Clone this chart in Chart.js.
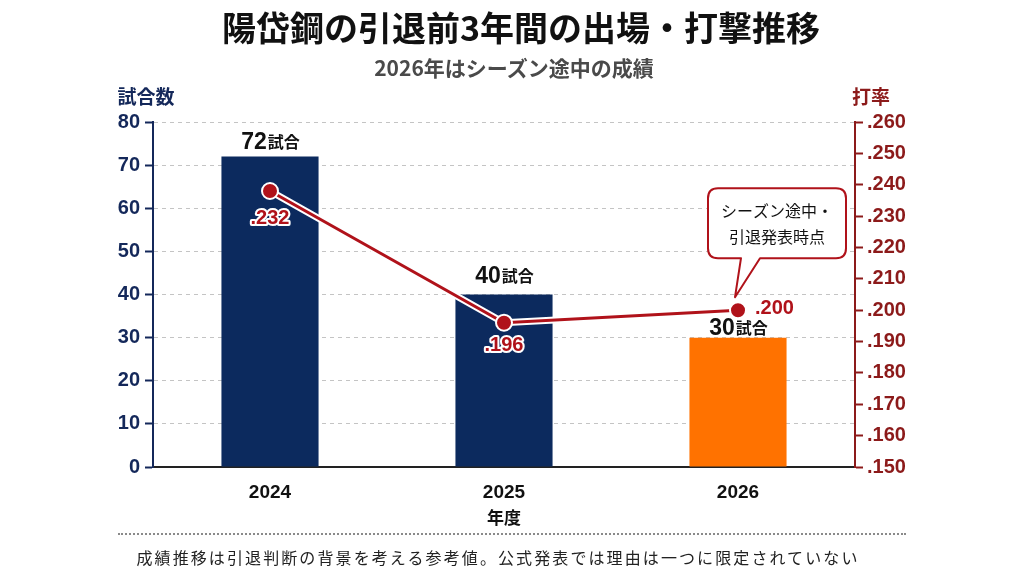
<!DOCTYPE html>
<html lang="ja">
<head>
<meta charset="utf-8">
<script src="https://cdn.jsdelivr.net/npm/chart.js@4.4.1/dist/chart.umd.min.js"></script>
<style>
  html, body { margin: 0; padding: 0; background: #fff; }
  body { width: 1024px; height: 576px; position: relative; overflow: hidden; font-family: "Noto Sans CJK JP", "Noto Sans", sans-serif; }
  #title { position: absolute; top: 4px; left: 9px; width: 1024px; text-align: center; font-size: 34px; font-weight: bold; color: #111; line-height: 46px; }
  #subtitle { position: absolute; top: 52px; left: 2px; width: 1024px; text-align: center; font-size: 21px; font-weight: bold; color: #4a4a4a; line-height: 30px; }
  #sep { position: absolute; top: 533px; left: 118px; width: 788px; border-top: 2px dotted #8a8a8a; }
  #note { position: absolute; top: 545px; left: 0; width: 996px; text-align: center; font-size: 16px; letter-spacing: 2.1px; color: #222; line-height: 24px; }
  #wrap { position: absolute; left: 0; top: 0; width: 1024px; height: 576px; }
</style>
</head>
<body>
<div id="wrap"><canvas id="chart" width="1024" height="576"></canvas></div>
<div id="title">陽岱鋼の引退前3年間の出場・打撃推移</div>
<div id="subtitle">2026年はシーズン途中の成績</div>
<div id="sep"></div>
<div id="note">成績推移は引退判断の背景を考える参考値。公式発表では理由は一つに限定されていない</div>
<script>
// Data
const years = ['2024', '2025', '2026'];
const games = [72, 40, 30];
const battingAvg = [0.238, 0.196, 0.200];   // plotted positions as drawn
const avgLabels = ['.232', '.196', '.200'];
const barColors = ['#0c2a5e', '#0c2a5e', '#ff7200'];
const calloutLines = ['シーズン途中・', '引退発表時点'];

const FONT = '"Noto Sans CJK JP", "Noto Sans", sans-serif';
const NUM = '"Liberation Sans", Arial, sans-serif';
const NAVY = '#14285a';
const RED = '#8c1a1a';
const LINE_RED = '#b0121a';

// Labels, axis titles, callout
const overlayPlugin = {
  id: 'overlay',
  afterDatasetsDraw(chart) {
    const ctx = chart.ctx;
    const bars = chart.getDatasetMeta(0).data;
    const pts = chart.getDatasetMeta(2).data;
    const gaps = [8, 12, 3];

    ctx.save();
    // bar labels
    bars.forEach((bar, i) => {
      const num = String(games[i]);
      ctx.font = `bold 23px ${NUM}`;
      const w1 = ctx.measureText(num).width;
      ctx.font = `bold 16px ${FONT}`;
      const w2 = ctx.measureText('試合').width;
      const x0 = bar.x - (w1 + w2) / 2;
      const y = bar.y - gaps[i];
      ctx.fillStyle = '#111';
      ctx.textBaseline = 'alphabetic';
      ctx.textAlign = 'left';
      ctx.font = `bold 23px ${NUM}`;
      ctx.fillText(num, x0, y);
      ctx.font = `bold 16px ${FONT}`;
      ctx.fillText('試合', x0 + w1 + 1, y - 1);
    });

    // avg labels
    const offs = [[0, 27, 'center'], [0, 23, 'center'], [17, -2, 'left']];
    ctx.font = `bold 20px ${NUM}`;
    ctx.textBaseline = 'middle';
    pts.forEach((p, i) => {
      const [dx, dy, al] = offs[i];
      ctx.textAlign = al;
      ctx.lineJoin = 'round';
      ctx.lineWidth = 4;
      ctx.strokeStyle = '#fff';
      if (i < 2) ctx.strokeText(avgLabels[i], p.x + dx, p.y + dy);
      ctx.fillStyle = LINE_RED;
      ctx.fillText(avgLabels[i], p.x + dx, p.y + dy);
    });

    // callout
    const p = pts[2];
    const L = p.x - 30, R = p.x + 108, T = p.y - 122, B = p.y - 52, r = 10;
    ctx.beginPath();
    ctx.moveTo(L + r, T);
    ctx.lineTo(R - r, T);
    ctx.quadraticCurveTo(R, T, R, T + r);
    ctx.lineTo(R, B - r);
    ctx.quadraticCurveTo(R, B, R - r, B);
    ctx.lineTo(p.x + 22, B);
    ctx.lineTo(p.x - 3, p.y - 13);
    ctx.lineTo(p.x + 3, B);
    ctx.lineTo(L + r, B);
    ctx.quadraticCurveTo(L, B, L, B - r);
    ctx.lineTo(L, T + r);
    ctx.quadraticCurveTo(L, T, L + r, T);
    ctx.closePath();
    ctx.fillStyle = '#fff';
    ctx.fill();
    ctx.lineWidth = 2;
    ctx.strokeStyle = LINE_RED;
    ctx.stroke();
    ctx.fillStyle = '#111';
    ctx.font = `16px ${FONT}`;
    ctx.textAlign = 'center';
    ctx.textBaseline = 'middle';
    const cx = (L + R) / 2;
    ctx.fillText(calloutLines[0], cx, T + 23);
    ctx.fillText(calloutLines[1], cx, T + 49);

    // axis titles
    ctx.font = `bold 19px ${FONT}`;
    ctx.fillStyle = NAVY;
    ctx.fillText('試合数', 146, 97);
    ctx.fillStyle = RED;
    ctx.fillText('打率', 871, 97);
    ctx.restore();
  }
};

new Chart(document.getElementById('chart'), {
  type: 'bar',
  data: {
    labels: years,
    datasets: [
      {
        type: 'bar',
        data: games,
        backgroundColor: barColors,
        yAxisID: 'y',
        barPercentage: 0.415,
        categoryPercentage: 1,
        order: 3
      },
      {
        type: 'line',
        data: battingAvg,
        yAxisID: 'y1',
        borderColor: '#fff',
        borderWidth: 7,
        pointRadius: 0,
        order: 2
      },
      {
        type: 'line',
        data: battingAvg,
        yAxisID: 'y1',
        borderColor: LINE_RED,
        borderWidth: 3,
        pointRadius: 8,
        pointBackgroundColor: LINE_RED,
        pointBorderColor: '#fff',
        pointBorderWidth: 2,
        order: 1
      }
    ]
  },
  options: {
    responsive: false,
    animation: false,
    layout: { padding: { top: 122, left: 0, right: 0, bottom: 0 } },
    plugins: {
      legend: { display: false },
      tooltip: { enabled: false }
    },
    scales: {
      x: {
        grid: { display: false, drawTicks: false },
        border: { display: true, color: '#222', width: 2 },
        ticks: { color: '#111', font: { family: NUM, size: 19, weight: 'bold' }, padding: 14 },
        title: { display: true, text: '年度', color: '#111', font: { family: FONT, size: 17, weight: 'bold' }, padding: { bottom: 48 } },
        afterFit: (s) => { s.height = 109; }
      },
      y: {
        position: 'left',
        min: 0,
        max: 80,
        ticks: { stepSize: 10, color: NAVY, font: { family: NUM, size: 20, weight: 'bold' }, padding: 5 },
        grid: { color: '#c4c4c4', lineWidth: 1, tickColor: NAVY, tickLength: 8, tickWidth: 2 },
        border: { color: NAVY, width: 2, dash: [4, 4] },
        afterFit: (s) => { s.width = 153; }
      },
      y1: {
        position: 'right',
        min: 0.15,
        max: 0.26,
        ticks: {
          stepSize: 0.01,
          color: RED,
          font: { family: NUM, size: 20, weight: 'bold' },
          padding: 4,
          callback: (v) => v.toFixed(3).replace(/^0/, '')
        },
        grid: { drawOnChartArea: false, tickColor: RED, tickLength: 8, tickWidth: 2 },
        border: { color: RED, width: 2 },
        afterFit: (s) => { s.width = 169; }
      }
    }
  },
  plugins: [overlayPlugin]
});
</script>
</body>
</html>
